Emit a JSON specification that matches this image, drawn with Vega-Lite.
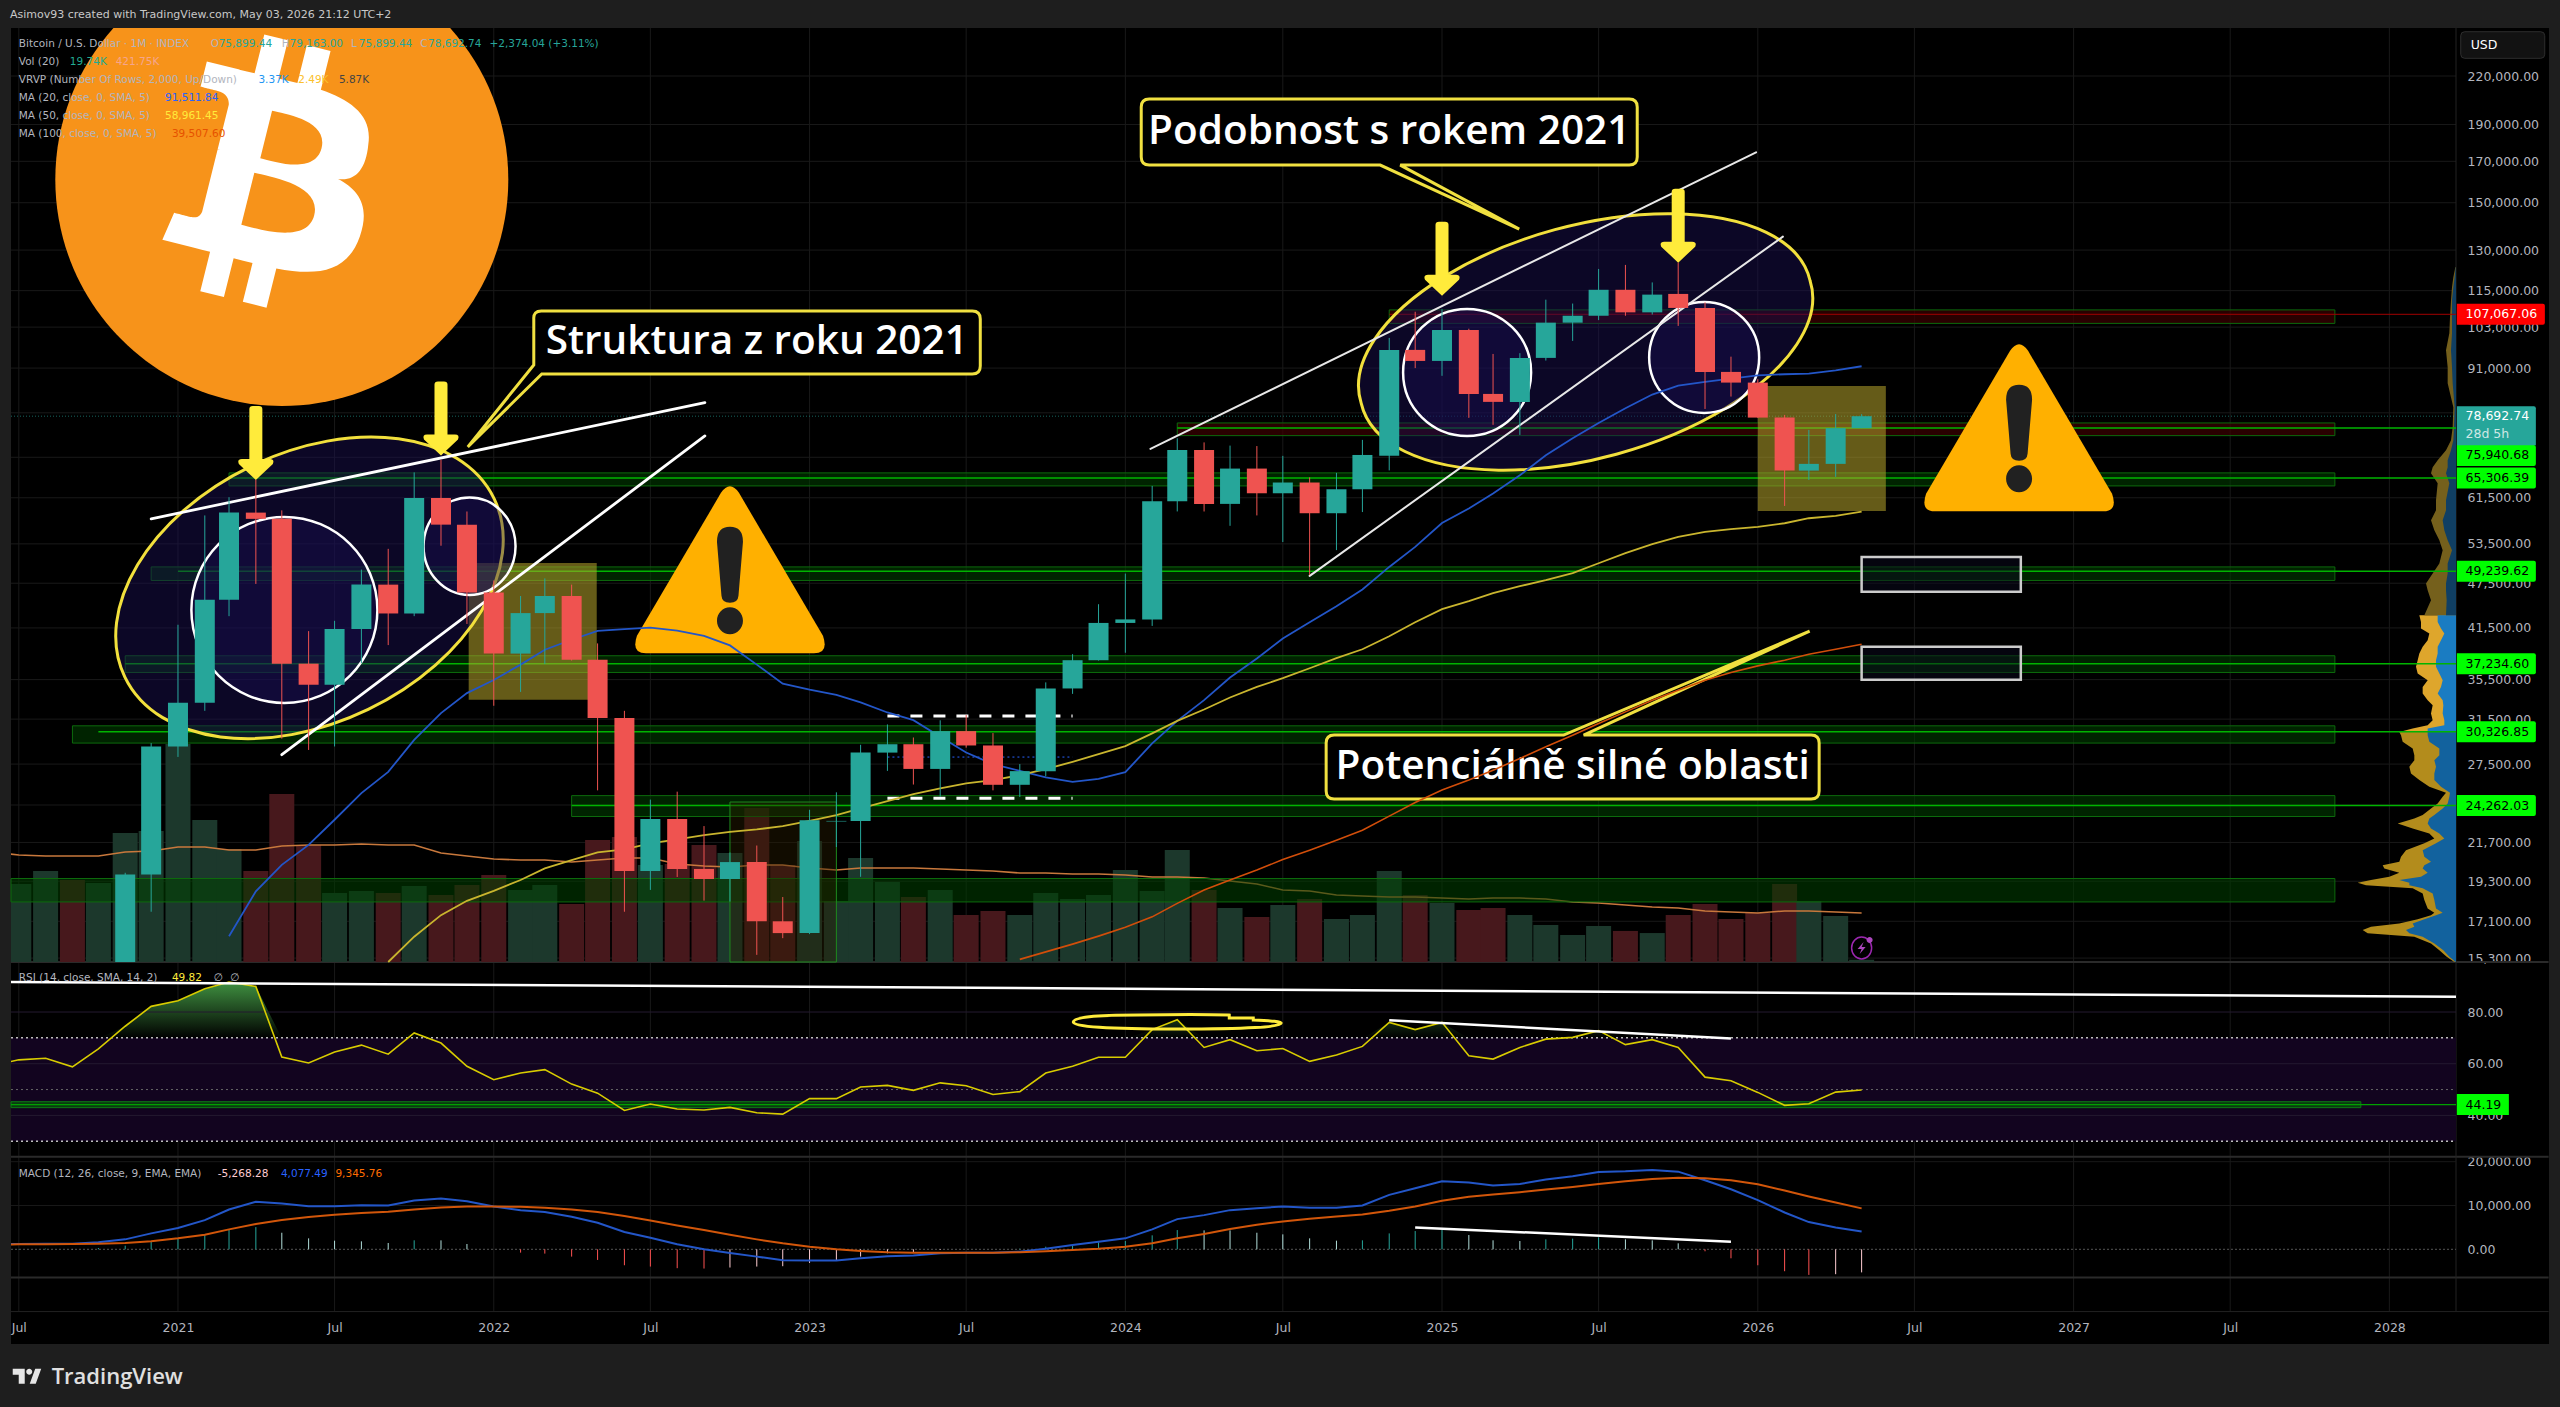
{"$schema":"https://vega.github.io/schema/vega-lite/v6.json","autosize":{"type":"none"},"padding":{"left":11,"top":28,"right":11,"bottom":63},"width":2538,"height":1316,"background":"#1e1e1e","view":{"fill":"#000000","stroke":null},
"title":{"text":"Asimov93 created with TradingView.com, May 03, 2026 21:12 UTC+2","anchor":"start","frame":"group","offset":8,"dx":-1,"fontSize":11,"fontWeight":"normal","font":"DejaVu Sans","color":"#c8c8c8"},
"datasets":{"months":[
{"date":"2020-06-01","volma":946,"rsi":59.4,"macd":1140,"signal":1060},
{"date":"2020-07-01","open":9135,"high":11450,"low":8970,"close":11335,"dir":"up","vol":671,"volma":920,"rsi":61.5,"macd":1210,"signal":1140,"hist":70,"hs":"pr"},
{"date":"2020-08-01","open":11335,"high":12470,"low":11000,"close":11650,"dir":"up","vol":783,"volma":912,"rsi":62.1,"macd":1290,"signal":1140,"hist":150,"hs":"pr"},
{"date":"2020-09-01","open":11650,"high":12050,"low":9900,"close":10780,"dir":"down","vol":705,"volma":912,"rsi":58.8,"macd":1290,"signal":1210,"hist":80,"hs":"pf"},
{"date":"2020-10-01","open":10780,"high":14100,"low":10400,"close":13800,"dir":"up","vol":679,"volma":912,"rsi":65.7,"macd":1590,"signal":1290,"hist":300,"hs":"pr"},
{"date":"2020-11-01","open":13800,"high":19800,"low":13200,"close":19700,"dir":"up","vol":1109,"volma":946,"rsi":74.5,"macd":2270,"signal":1440,"hist":830,"hs":"pr"},
{"date":"2020-12-01","open":19700,"high":29300,"low":17600,"close":29000,"dir":"up","vol":1127,"volma":955,"rsi":82.2,"macd":3640,"signal":1820,"hist":1820,"hs":"pr"},
{"date":"2021-01-01","open":29000,"high":41900,"low":28100,"close":33100,"dir":"up","vol":1875,"volma":989,"rsi":84.4,"macd":4850,"signal":2500,"hist":2350,"hs":"pr"},
{"date":"2021-02-01","open":33100,"high":58300,"low":32300,"close":45200,"dir":"up","vol":1221,"volma":989,"rsi":89.0,"macd":6670,"signal":3330,"hist":3340,"hs":"pr"},
{"date":"2021-03-01","open":45200,"high":61600,"low":43000,"close":58800,"dir":"up","vol":972,"volma":963,"ma20":16340,"rsi":91.6,"macd":9090,"signal":4550,"hist":4540,"hs":"pr"},
{"date":"2021-04-01","open":58800,"high":64900,"low":47400,"close":57700,"dir":"down","vol":783,"volma":963,"ma20":18720,"rsi":89.9,"macd":10830,"signal":5760,"hist":5070,"hs":"pr"},
{"date":"2021-05-01","open":57700,"high":59200,"low":29700,"close":37250,"dir":"down","vol":1445,"volma":998,"ma20":20280,"rsi":62.6,"macd":10450,"signal":6670,"hist":3780,"hs":"pf"},
{"date":"2021-06-01","open":37250,"high":41100,"low":28700,"close":34950,"dir":"down","vol":1006,"volma":1006,"ma20":21540,"rsi":60.3,"macd":9850,"signal":7350,"hist":2500,"hs":"pf"},
{"date":"2021-07-01","open":34950,"high":42400,"low":29000,"close":41350,"dir":"up","vol":593,"volma":1006,"ma20":23240,"rsi":64.5,"macd":9850,"signal":7880,"hist":1970,"hs":"pf"},
{"date":"2021-08-01","open":41350,"high":49500,"low":37300,"close":47300,"dir":"up","vol":611,"volma":1015,"ma20":25190,"rsi":67.2,"macd":10080,"signal":8260,"hist":1820,"hs":"pf"},
{"date":"2021-09-01","open":47300,"high":52700,"low":39400,"close":43350,"dir":"down","vol":593,"volma":1006,"ma20":26860,"ma50":15120,"rsi":63.7,"macd":10000,"signal":8560,"hist":1440,"hs":"pf"},
{"date":"2021-10-01","open":43350,"high":66400,"low":43000,"close":61450,"dir":"up","vol":654,"volma":1006,"ma20":29590,"ma50":16320,"rsi":71.9,"macd":11140,"signal":9090,"hist":2050,"hs":"pr"},
{"date":"2021-11-01","open":61450,"high":69000,"low":53200,"close":56700,"dir":"down","vol":576,"volma":937,"ma20":32080,"ma50":17420,"rsi":68.0,"macd":11590,"signal":9550,"hist":2040,"hs":"pf"},
{"date":"2021-12-01","open":56700,"high":59000,"low":42000,"close":46200,"dir":"down","vol":662,"volma":912,"ma20":34080,"ma50":18190,"rsi":59.0,"macd":10980,"signal":9770,"hist":1210,"hs":"pf"},
{"date":"2022-01-01","open":46200,"high":47900,"low":32800,"close":38400,"dir":"down","vol":748,"volma":886,"ma20":35460,"ma50":18750,"rsi":53.8,"macd":9770,"signal":9770,"hist":0,"hs":"pf"},
{"date":"2022-02-01","open":38400,"high":45700,"low":34200,"close":43400,"dir":"up","vol":619,"volma":877,"ma20":37140,"ma50":19370,"rsi":56.4,"macd":8940,"signal":9700,"hist":-760,"hs":"nf"},
{"date":"2022-03-01","open":43400,"high":48200,"low":37200,"close":45700,"dir":"up","vol":662,"volma":877,"ma20":38850,"ma50":20060,"rsi":57.7,"macd":8490,"signal":9470,"hist":-980,"hs":"nf"},
{"date":"2022-04-01","open":45700,"high":47300,"low":37600,"close":37700,"dir":"down","vol":499,"volma":860,"ma20":40040,"ma50":20570,"rsi":52.1,"macd":7420,"signal":9090,"hist":-1670,"hs":"nf"},
{"date":"2022-05-01","open":37700,"high":39600,"low":25400,"close":31600,"dir":"down","vol":1049,"volma":877,"ma20":41140,"ma50":21060,"rsi":48.6,"macd":6060,"signal":8490,"hist":-2430,"hs":"nf"},
{"date":"2022-06-01","open":31600,"high":32300,"low":17600,"close":19900,"dir":"down","vol":1075,"volma":894,"ma20":41340,"ma50":21250,"rsi":41.9,"macd":3940,"signal":7580,"hist":-3640,"hs":"nf"},
{"date":"2022-07-01","open":19900,"high":24700,"low":18800,"close":23300,"dir":"up","vol":834,"volma":894,"ma20":41540,"ma50":21640,"rsi":44.4,"macd":2650,"signal":6590,"hist":-3940,"hs":"nf"},
{"date":"2022-08-01","open":23300,"high":25300,"low":19550,"close":20030,"dir":"down","vol":843,"volma":843,"ma20":41160,"ma50":21900,"rsi":42.5,"macd":1140,"signal":5450,"hist":-4310,"hs":"nf"},
{"date":"2022-09-01","open":20030,"high":22800,"low":18200,"close":19430,"dir":"down","vol":1006,"volma":826,"ma20":40520,"ma50":22190,"rsi":42.1,"macd":0,"signal":4390,"hist":-4390,"hs":"nf"},
{"date":"2022-10-01","open":19430,"high":21050,"low":18150,"close":20450,"dir":"up","vol":937,"volma":817,"ma20":39360,"ma50":22410,"rsi":43.1,"macd":-830,"signal":3330,"hist":-4160,"hs":"nr"},
{"date":"2022-11-01","open":20450,"high":21500,"low":15450,"close":17100,"dir":"down","vol":1324,"volma":834,"ma20":37140,"ma50":22570,"rsi":41.0,"macd":-1670,"signal":2270,"hist":-3940,"hs":"nr"},
{"date":"2022-12-01","open":17100,"high":18400,"low":16250,"close":16500,"dir":"down","vol":834,"volma":834,"ma20":35070,"ma50":22800,"rsi":40.5,"macd":-2500,"signal":1360,"hist":-3860,"hs":"nr"},
{"date":"2023-01-01","open":16500,"high":23950,"low":16450,"close":23200,"dir":"up","vol":1041,"volma":808,"ma20":34430,"ma50":23170,"rsi":46.5,"macd":-2580,"signal":610,"hist":-3110,"hs":"nr"},
{"date":"2023-02-01","open":23120,"high":25250,"low":21400,"close":23160,"dir":"up","vol":525,"volma":791,"ma20":33900,"ma50":23570,"rsi":46.5,"macd":-2580,"signal":0,"hist":-2580,"hs":"nr"},
{"date":"2023-03-01","open":23160,"high":29150,"low":19560,"close":28470,"dir":"up","vol":894,"volma":808,"ma20":33130,"ma50":24050,"rsi":51.0,"macd":-2050,"signal":-380,"hist":-1670,"hs":"nr"},
{"date":"2023-04-01","open":28470,"high":31000,"low":26940,"close":29200,"dir":"up","vol":688,"volma":808,"ma20":32140,"ma50":24590,"rsi":51.6,"macd":-1590,"signal":-680,"hist":-910,"hs":"nr"},
{"date":"2023-05-01","open":29200,"high":29800,"low":25850,"close":27100,"dir":"down","vol":559,"volma":808,"ma20":31400,"ma50":25110,"rsi":49.7,"macd":-1440,"signal":-760,"hist":-680,"hs":"nr"},
{"date":"2023-06-01","open":27100,"high":31390,"low":24900,"close":30380,"dir":"up","vol":619,"volma":800,"ma20":29860,"ma50":25550,"rsi":52.6,"macd":-910,"signal":-760,"hist":-150,"hs":"nr"},
{"date":"2023-07-01","open":30380,"high":31900,"low":28900,"close":29090,"dir":"down","vol":404,"volma":791,"ma20":28480,"ma50":25940,"rsi":51.5,"macd":-760,"signal":-760,"hist":0,"hs":"nr"},
{"date":"2023-08-01","open":29090,"high":30200,"low":25400,"close":25830,"dir":"down","vol":439,"volma":783,"ma20":27490,"ma50":26200,"rsi":48.1,"macd":-760,"signal":-760,"hist":0,"hs":"nr"},
{"date":"2023-09-01","open":25830,"high":27500,"low":24900,"close":26920,"dir":"up","vol":404,"volma":765,"ma20":26940,"ma50":26590,"ma100":15240,"rsi":49.2,"macd":-530,"signal":-680,"hist":150,"hs":"pr"},
{"date":"2023-10-01","open":26920,"high":35200,"low":26500,"close":34560,"dir":"up","vol":593,"volma":765,"ma20":26410,"ma50":27080,"ma100":15590,"rsi":56.4,"macd":150,"signal":-450,"hist":600,"hs":"pr"},
{"date":"2023-11-01","open":34560,"high":38330,"low":34000,"close":37640,"dir":"up","vol":542,"volma":757,"ma20":26060,"ma50":27690,"ma100":15960,"rsi":59.0,"macd":980,"signal":-150,"hist":1130,"hs":"pr"},
{"date":"2023-12-01","open":37640,"high":44580,"low":37600,"close":42130,"dir":"up","vol":576,"volma":757,"ma20":26300,"ma50":28340,"ma100":16350,"rsi":62.5,"macd":1740,"signal":150,"hist":1590,"hs":"pr"},
{"date":"2024-01-01","open":42130,"high":48910,"low":38500,"close":42580,"dir":"up","vol":791,"volma":748,"ma20":26830,"ma50":29030,"ma100":16790,"rsi":62.5,"macd":2500,"signal":610,"hist":1890,"hs":"pr"},
{"date":"2024-02-01","open":42580,"high":63740,"low":41750,"close":60860,"dir":"up","vol":611,"volma":731,"ma20":29270,"ma50":30170,"ma100":17330,"rsi":73.2,"macd":4550,"signal":1360,"hist":3190,"hs":"pr"},
{"date":"2024-03-01","open":60860,"high":73620,"low":59010,"close":71070,"dir":"up","vol":963,"volma":731,"ma20":31340,"ma50":31340,"ma100":18050,"rsi":77.0,"macd":6890,"signal":2500,"hist":4390,"hs":"pr"},
{"date":"2024-04-01","open":71070,"high":72700,"low":59000,"close":60370,"dir":"down","vol":619,"volma":722,"ma20":33360,"ma50":32430,"ma100":18790,"rsi":66.3,"macd":7800,"signal":3480,"hist":4320,"hs":"pf"},
{"date":"2024-05-01","open":60370,"high":72000,"low":56500,"close":67170,"dir":"up","vol":464,"volma":697,"ma20":35720,"ma50":33630,"ma100":19370,"rsi":69.3,"macd":8940,"signal":4620,"hist":4320,"hs":"pf"},
{"date":"2024-06-01","open":67170,"high":71900,"low":58300,"close":62340,"dir":"down","vol":387,"volma":671,"ma20":37830,"ma50":34720,"ma100":19960,"rsi":65.0,"macd":9390,"signal":5610,"hist":3780,"hs":"pf"},
{"date":"2024-07-01","open":62340,"high":69800,"low":53800,"close":64400,"dir":"up","vol":490,"volma":619,"ma20":40190,"ma50":35650,"ma100":20610,"rsi":65.9,"macd":9770,"signal":6360,"hist":3410,"hs":"pf"},
{"date":"2024-08-01","open":64400,"high":65400,"low":48700,"close":58690,"dir":"down","vol":542,"volma":611,"ma20":42220,"ma50":36740,"ma100":21200,"rsi":60.9,"macd":9470,"signal":6970,"hist":2500,"hs":"pf"},
{"date":"2024-09-01","open":58690,"high":66300,"low":52500,"close":63100,"dir":"up","vol":370,"volma":576,"ma20":44310,"ma50":37870,"ma100":21850,"rsi":63.4,"macd":9470,"signal":7500,"hist":1970,"hs":"pf"},
{"date":"2024-10-01","open":63100,"high":73250,"low":58900,"close":69990,"dir":"up","vol":404,"volma":568,"ma20":46610,"ma50":38910,"ma100":22520,"rsi":66.7,"macd":10000,"signal":7950,"hist":2050,"hs":"pr"},
{"date":"2024-11-01","open":69850,"high":99700,"low":66800,"close":96150,"dir":"up","vol":783,"volma":559,"ma20":49900,"ma50":40470,"ma100":23500,"rsi":76.0,"macd":12420,"signal":8790,"hist":3630,"hs":"pr"},
{"date":"2024-12-01","open":96150,"high":107900,"low":91000,"close":92990,"dir":"down","vol":576,"volma":559,"ma20":53010,"ma50":42220,"ma100":24490,"rsi":73.2,"macd":13940,"signal":9770,"hist":4170,"hs":"pr"},
{"date":"2025-01-01","open":92990,"high":108700,"low":88900,"close":102100,"dir":"up","vol":507,"volma":550,"ma20":56990,"ma50":43920,"ma100":25420,"rsi":76.0,"macd":15530,"signal":11060,"hist":4470,"hs":"pr"},
{"date":"2025-02-01","open":102100,"high":102500,"low":78300,"close":84170,"dir":"down","vol":447,"volma":542,"ma20":59530,"ma50":44990,"ma100":26200,"rsi":63.1,"macd":15230,"signal":11970,"hist":3260,"hs":"pf"},
{"date":"2025-03-01","open":84170,"high":94980,"low":76660,"close":82170,"dir":"down","vol":464,"volma":550,"ma20":62290,"ma50":46090,"ma100":27000,"rsi":61.8,"macd":14550,"signal":12500,"hist":2050,"hs":"pf"},
{"date":"2025-04-01","open":82170,"high":95200,"low":74360,"close":93850,"dir":"up","vol":404,"volma":550,"ma20":65830,"ma50":47080,"ma100":27970,"rsi":66.3,"macd":14920,"signal":13030,"hist":1890,"hs":"pf"},
{"date":"2025-05-01","open":93850,"high":111900,"low":93100,"close":104400,"dir":"up","vol":318,"volma":542,"ma20":69930,"ma50":47940,"ma100":28970,"rsi":69.5,"macd":15910,"signal":13640,"hist":2270,"hs":"pr"},
{"date":"2025-06-01","open":104400,"high":110600,"low":98800,"close":106600,"dir":"up","vol":232,"volma":516,"ma20":73620,"ma50":48960,"ma100":30010,"rsi":70.2,"macd":16670,"signal":14240,"hist":2430,"hs":"pr"},
{"date":"2025-07-01","open":106600,"high":122800,"low":105200,"close":115300,"dir":"up","vol":310,"volma":507,"ma20":77100,"ma50":50460,"ma100":31090,"rsi":72.8,"macd":17650,"signal":14920,"hist":2730,"hs":"pr"},
{"date":"2025-08-01","open":115300,"high":124300,"low":106600,"close":107700,"dir":"down","vol":267,"volma":490,"ma20":80600,"ma50":52010,"ma100":32200,"rsi":67.4,"macd":17800,"signal":15530,"hist":2270,"hs":"pf"},
{"date":"2025-09-01","open":107700,"high":117900,"low":107000,"close":113630,"dir":"up","vol":249,"volma":473,"ma20":84010,"ma50":53450,"ma100":33360,"rsi":69.3,"macd":18100,"signal":16060,"hist":2040,"hs":"pf"},
{"date":"2025-10-01","open":113870,"high":125170,"low":103380,"close":109150,"dir":"down","vol":404,"volma":464,"ma20":86320,"ma50":54630,"ma100":34380,"rsi":66.3,"macd":17730,"signal":16360,"hist":1370,"hs":"pf"},
{"date":"2025-11-01","open":109150,"high":111000,"low":80430,"close":89960,"dir":"down","vol":499,"volma":439,"ma20":87270,"ma50":55470,"ma100":35440,"rsi":54.8,"macd":15760,"signal":16210,"hist":-450,"hs":"nf"},
{"date":"2025-12-01","open":89960,"high":94200,"low":83500,"close":87100,"dir":"down","vol":370,"volma":430,"ma20":88170,"ma50":55920,"ma100":36270,"rsi":53.4,"macd":13710,"signal":15760,"hist":-2050,"hs":"nf"},
{"date":"2026-01-01","open":87100,"high":88000,"low":78300,"close":78360,"dir":"down","vol":421,"volma":421,"ma20":89050,"ma50":56310,"ma100":37000,"rsi":48.9,"macd":11210,"signal":14850,"hist":-3640,"hs":"nf"},
{"date":"2026-02-01","open":78360,"high":79000,"low":60000,"close":66760,"dir":"down","vol":671,"volma":439,"ma20":89330,"ma50":56940,"ma100":37640,"rsi":43.9,"macd":8410,"signal":13410,"hist":-5000,"hs":"nf"},
{"date":"2026-03-01","open":66760,"high":75500,"low":64900,"close":68130,"dir":"up","vol":525,"volma":439,"ma20":89510,"ma50":57810,"ma100":38330,"rsi":44.5,"macd":6210,"signal":12050,"hist":-5840,"hs":"nf"},
{"date":"2026-04-01","open":68130,"high":79200,"low":65500,"close":75899,"dir":"up","vol":396,"volma":430,"ma20":90400,"ma50":58220,"ma100":38910,"rsi":49.0,"macd":5000,"signal":10680,"hist":-5680,"hs":"nr"},
{"date":"2026-05-01","open":75899.44,"high":79163,"low":75899.44,"close":78692.74,"dir":"up","vol":19.74,"volma":421.75,"ma20":91511.84,"ma50":58961.45,"ma100":39507.6,"rsi":49.82,"macd":4077.49,"signal":9345.76,"hist":-5268.28,"hs":"nr"}
],
"vrvp":[
{"price":15130,"up":2,"total":6,"band":"low"},{"price":15360,"up":20,"total":28,"band":"low"},{"price":15670,"up":38,"total":50,"band":"low"},{"price":15990,"up":65,"total":75,"band":"low"},{"price":16320,"up":100,"total":125,"band":"low"},{"price":16490,"up":140,"total":265,"band":"low"},{"price":16650,"up":150,"total":280,"band":"low"},{"price":16820,"up":125,"total":255,"band":"low"},{"price":16990,"up":130,"total":170,"band":"low"},{"price":17200,"up":95,"total":115,"band":"low"},{"price":17420,"up":60,"total":75,"band":"low"},{"price":17540,"up":40,"total":65,"band":"low"},{"price":17780,"up":60,"total":85,"band":"low"},{"price":18230,"up":65,"total":95,"band":"low"},{"price":18600,"up":70,"total":100,"band":"low"},{"price":18890,"up":100,"total":130,"band":"low"},{"price":19070,"up":140,"total":270,"band":"low"},{"price":19210,"up":140,"total":295,"band":"low"},{"price":19370,"up":170,"total":255,"band":"low"},{"price":19560,"up":105,"total":200,"band":"low"},{"price":19800,"up":85,"total":170,"band":"low"},{"price":20060,"up":100,"total":215,"band":"low"},{"price":20260,"up":95,"total":220,"band":"low"},{"price":20470,"up":75,"total":170,"band":"low"},{"price":20780,"up":95,"total":165,"band":"low"},{"price":21200,"up":100,"total":150,"band":"low"},{"price":21640,"up":60,"total":95,"band":"low"},{"price":21960,"up":35,"total":65,"band":"low"},{"price":22300,"up":50,"total":80,"band":"low"},{"price":22640,"up":75,"total":130,"band":"low"},{"price":22980,"up":85,"total":175,"band":"low"},{"price":23330,"up":80,"total":125,"band":"low"},{"price":23570,"up":65,"total":100,"band":"low"},{"price":24050,"up":40,"total":75,"band":"low"},{"price":24420,"up":25,"total":55,"band":"low"},{"price":24910,"up":20,"total":40,"band":"low"},{"price":25210,"up":18,"total":30,"band":"low"},{"price":25670,"up":45,"total":80,"band":"low"},{"price":26200,"up":65,"total":110,"band":"low"},{"price":26730,"up":65,"total":135,"band":"low"},{"price":27270,"up":60,"total":140,"band":"low"},{"price":27830,"up":65,"total":125,"band":"low"},{"price":28250,"up":50,"total":125,"band":"low"},{"price":28830,"up":50,"total":130,"band":"low"},{"price":29410,"up":80,"total":160,"band":"low"},{"price":30010,"up":85,"total":165,"band":"low"},{"price":30310,"up":85,"total":170,"band":"low"},
{"price":30310,"up":85,"total":170,"band":"mid"},{"price":30630,"up":85,"total":130,"band":"mid"},{"price":30930,"up":35,"total":85,"band":"mid"},{"price":31400,"up":35,"total":70,"band":"mid"},{"price":32050,"up":40,"total":75,"band":"mid"},{"price":32860,"up":38,"total":70,"band":"mid"},{"price":33360,"up":40,"total":85,"band":"mid"},{"price":34040,"up":55,"total":100,"band":"mid"},{"price":34720,"up":45,"total":100,"band":"mid"},{"price":35440,"up":40,"total":85,"band":"mid"},{"price":36160,"up":50,"total":115,"band":"mid"},{"price":36890,"up":60,"total":120,"band":"mid"},{"price":37640,"up":60,"total":115,"band":"mid"},{"price":38410,"up":55,"total":110,"band":"mid"},{"price":39190,"up":55,"total":100,"band":"mid"},{"price":39990,"up":45,"total":85,"band":"mid"},{"price":40800,"up":35,"total":80,"band":"mid"},{"price":41420,"up":45,"total":105,"band":"mid"},{"price":42260,"up":55,"total":105,"band":"mid"},{"price":43130,"up":55,"total":110,"band":"mid"},
{"price":43130,"up":30,"total":95,"band":"top"},{"price":45130,"up":28,"total":75,"band":"top"},{"price":46510,"up":30,"total":85,"band":"top"},{"price":47460,"up":30,"total":90,"band":"top"},{"price":48910,"up":25,"total":70,"band":"top"},{"price":50410,"up":25,"total":50,"band":"top"},{"price":52480,"up":12,"total":40,"band":"top"},{"price":54090,"up":25,"total":50,"band":"top"},{"price":55750,"up":35,"total":65,"band":"top"},{"price":57460,"up":40,"total":75,"band":"top"},{"price":59230,"up":30,"total":60,"band":"top"},{"price":61040,"up":30,"total":60,"band":"top"},{"price":64260,"up":20,"total":55,"band":"top"},{"price":66230,"up":30,"total":75,"band":"top"},{"price":67440,"up":25,"total":70,"band":"top"},{"price":68880,"up":25,"total":55,"band":"top"},{"price":70990,"up":15,"total":30,"band":"top"},{"price":73180,"up":8,"total":15,"band":"top"},{"price":76100,"up":6,"total":10,"band":"top"},{"price":80840,"up":4,"total":8,"band":"top"},{"price":86930,"up":10,"total":25,"band":"top"},{"price":91230,"up":12,"total":25,"band":"top"},{"price":96040,"up":15,"total":30,"band":"top"},{"price":101100,"up":12,"total":20,"band":"top"},{"price":106100,"up":12,"total":18,"band":"top"},{"price":111700,"up":12,"total":15,"band":"top"},{"price":116170,"up":8,"total":12,"band":"top"},{"price":119740,"up":4,"total":8,"band":"top"},{"price":123400,"up":1,"total":2,"band":"top"}
]},
"encoding":{"x":{"field":"date","type":"temporal","scale":{"type":"utc","domain":["2020-06-22","2028-03-18"],"range":[0,2445],"nice":false,"padding":0},"axis":null}},
"layer":[
{"data":{"values":[{"date":"2020-07-01","price":254350,"price2":5257},{"date":"2021-01-01","price":254350,"price2":5257},{"date":"2021-07-01","price":254350,"price2":5257},{"date":"2022-01-01","price":254350,"price2":5257},{"date":"2022-07-01","price":254350,"price2":5257},{"date":"2023-01-01","price":254350,"price2":5257},{"date":"2023-07-01","price":254350,"price2":5257},{"date":"2024-01-01","price":254350,"price2":5257},{"date":"2024-07-01","price":254350,"price2":5257},{"date":"2025-01-01","price":254350,"price2":5257},{"date":"2025-07-01","price":254350,"price2":5257},{"date":"2026-01-01","price":254350,"price2":5257},{"date":"2026-07-01","price":254350,"price2":5257},{"date":"2027-01-01","price":254350,"price2":5257},{"date":"2027-07-01","price":254350,"price2":5257},{"date":"2028-01-01","price":254350,"price2":5257}]},
"mark":{"type":"rule","stroke":"#191919","strokeWidth":1},
"encoding":{"x":{"field":"date","type":"temporal","scale":{"type":"utc","domain":["2020-06-22","2028-03-18"],"range":[0,2445],"nice":false,"padding":0},"axis":{"orient":"bottom","offset":-32,"title":null,"grid":false,"domain":false,"ticks":false,"tickCount":{"interval":"month","step":6},"labelExpr":"utcFormat(datum.value,'%m')=='01' ? utcFormat(datum.value,'%Y') : 'Jul'","labelPadding":9,"labelFontSize":12.5,"labelColor":"#b2b5be","labelFont":"DejaVu Sans","labelOverlap":false,"labelBound":false,"labelFlush":false}},"y":{"field":"price","type":"quantitative","scale":{"type":"log","domain":[15120,254350],"range":[934,0],"nice":false},"axis":null},"y2":{"field":"price2"}}},
{"data":{"values":[{"date":"2020-06-22","date2":"2028-03-18","price":220000},{"date":"2020-06-22","date2":"2028-03-18","price":190000},{"date":"2020-06-22","date2":"2028-03-18","price":170000},{"date":"2020-06-22","date2":"2028-03-18","price":150000},{"date":"2020-06-22","date2":"2028-03-18","price":130000},{"date":"2020-06-22","date2":"2028-03-18","price":115000},{"date":"2020-06-22","date2":"2028-03-18","price":103000},{"date":"2020-06-22","date2":"2028-03-18","price":91000},{"date":"2020-06-22","date2":"2028-03-18","price":79500},{"date":"2020-06-22","date2":"2028-03-18","price":69500},{"date":"2020-06-22","date2":"2028-03-18","price":61500},{"date":"2020-06-22","date2":"2028-03-18","price":53500},{"date":"2020-06-22","date2":"2028-03-18","price":47500},{"date":"2020-06-22","date2":"2028-03-18","price":41500},{"date":"2020-06-22","date2":"2028-03-18","price":35500},{"date":"2020-06-22","date2":"2028-03-18","price":31500},{"date":"2020-06-22","date2":"2028-03-18","price":27500},{"date":"2020-06-22","date2":"2028-03-18","price":24300},{"date":"2020-06-22","date2":"2028-03-18","price":21700},{"date":"2020-06-22","date2":"2028-03-18","price":19300},{"date":"2020-06-22","date2":"2028-03-18","price":17100},{"date":"2020-06-22","date2":"2028-03-18","price":15300}],"format":{"parse":{"date":"date","date2":"date"}}},
"mark":{"type":"rule","stroke":"#191919","strokeWidth":1},"encoding":{"x2":{"field":"date2"},"y":{"field":"price","type":"quantitative","scale":{"type":"log","domain":[15120,254350],"range":[934,0],"nice":false},"axis":{"orient":"right","offset":-93,"title":null,"grid":false,"domain":false,"ticks":false,"values":[220000,190000,170000,150000,130000,115000,103000,91000,79500,69500,61500,53500,47500,41500,35500,31500,27500,24300,21700,19300,17100,15300],"format":",.2f","labelPadding":11,"labelFontSize":12.5,"labelColor":"#b2b5be","labelFont":"DejaVu Sans","labelAlign":"left","labelOverlap":false,"labelBound":false,"labelFlush":false}}}},
{"encoding":{"y":{"field":"price","type":"quantitative","scale":{"type":"log","domain":[15120,254350],"range":[934,0],"nice":false},"axis":null}},
"layer":[
{"data":{"values":[{"date":"2020-06-22","date2":"2028-07-03","price":15120},{"date":"2020-06-22","date2":"2028-07-03","price":8395},{"date":"2020-06-22","date2":"2028-07-03","price":5825}],"format":{"parse":{"date":"date","date2":"date"}}},
"mark":{"type":"rule","stroke":"#2a2a2a","strokeWidth":2},"encoding":{"x2":{"field":"date2"}}},
{"data":{"values":[{"date":"2020-06-22","date2":"2028-07-03","price":5257}],"format":{"parse":{"date":"date","date2":"date"}}},
"mark":{"type":"rule","stroke":"#222222","strokeWidth":1},"encoding":{"x2":{"field":"date2"}}},
{"data":{"values":[{"date":"2028-03-18","price":254350,"price2":5257}]},"mark":{"type":"rule","stroke":"#222222","strokeWidth":1},"encoding":{"y2":{"field":"price2"}}},
{"data":{"values":[{"date":"2020-06-24","price":4424}]},"mark":{"type":"point","shape":"M0,0H12V15H6V6H0Z M13.5,3 a3,3 0 1 0 6,0 a3,3 0 1 0 -6,0 Z M17,15 L22.5,0 H28.5 L23,15 Z","size":4,"fill":"#e6e6e6","stroke":null,"opacity":1,"filled":true}},
{"data":{"values":[{"date":"2020-08-08","price":4318,"label":"TradingView"}]},"mark":{"type":"text","align":"left","baseline":"middle","font":"Open Sans","fontSize":22,"fontWeight":600,"fill":"#e0e0e0"},"encoding":{"text":{"field":"label"}}}
]},
{"encoding":{"y":{"field":"vol","type":"quantitative","scale":{"type":"linear","domain":[0,8032],"range":[934,0],"nice":false},"axis":null}},
"layer":[
{"data":{"name":"months"},"mark":{"type":"bar","size":25,"clip":true},"encoding":{"color":{"field":"dir","type":"nominal","scale":{"domain":["up","down"],"range":["#1c382c","#47181c"]},"legend":null}}},
{"data":{"name":"months"},"mark":{"type":"line","stroke":"#c8783c","strokeWidth":1.6,"clip":true},"encoding":{"y":{"field":"volma","type":"quantitative","scale":{"type":"linear","domain":[0,8032],"range":[934,0],"nice":false},"axis":null}}}
]},
{"resolve":{"scale":{"color":"independent"}},
"encoding":{"y":{"field":"price","type":"quantitative","scale":{"type":"log","domain":[15120,254350],"range":[934,0],"nice":false},"axis":null}},
"layer":[
{"data":{"name":"vrvp"},"mark":{"type":"area","orient":"horizontal"},"encoding":{"x":{"field":"total","type":"quantitative","stack":null,"scale":{"domain":[0,300],"range":[2445,2345],"nice":false},"axis":null},"color":{"field":"band","type":"nominal","scale":{"domain":["low","mid","top"],"range":["#b38c1c","#dea62c","#75601c"]},"legend":null}}},
{"data":{"name":"vrvp"},"mark":{"type":"area","orient":"horizontal"},"encoding":{"x":{"field":"up","type":"quantitative","stack":null,"scale":{"domain":[0,300],"range":[2445,2345],"nice":false},"axis":null},"color":{"field":"band","type":"nominal","scale":{"domain":["low","mid","top"],"range":["#12629e","#1a7cc2","#103f63"]},"legend":null}}}
]},
{"resolve":{"scale":{"color":"independent"}},
"encoding":{"y":{"field":"price","type":"quantitative","scale":{"type":"log","domain":[15120,254350],"range":[934,0],"nice":false,"clamp":true},"axis":null}},
"layer":[
{"data":{"values":[{"date":"2020-06-22","date2":"2028-03-18","price":78692.74}],"format":{"parse":{"date":"date","date2":"date"}}},"mark":{"type":"rule","stroke":"#26a69a","strokeWidth":1,"strokeDash":[1,2],"opacity":0.6},"encoding":{"x2":{"field":"date2"}}},
{"data":{"values":[{"date":"2024-11-01","date2":"2027-10-30","price":108500,"price2":104170},{"date":"2024-03-01","date2":"2027-10-30","price":77100,"price2":74200}],"format":{"parse":{"date":"date","date2":"date"}}},"mark":{"type":"rect","fill":"#3a0000","fillOpacity":0.7,"stroke":"#0c6a0c","strokeWidth":1},"encoding":{"x2":{"field":"date2"},"y2":{"field":"price2"}}},
{"data":{"values":[{"date":"2021-03-01","date2":"2027-10-30","price":66300,"price2":63740},{"date":"2020-12-01","date2":"2027-10-30","price":49900,"price2":47900},{"date":"2020-11-01","date2":"2027-10-30","price":38150,"price2":36270},{"date":"2020-09-01","date2":"2027-10-30","price":30870,"price2":29300},{"date":"2022-04-01","date2":"2027-10-30","price":25000,"price2":23470},{"date":"2020-06-22","date2":"2027-10-30","price":19460,"price2":18130}],"format":{"parse":{"date":"date","date2":"date"}}},"mark":{"type":"rect","fill":"#004000","fillOpacity":0.55,"stroke":"#0c6a0c","strokeWidth":1},"encoding":{"x2":{"field":"date2"},"y2":{"field":"price2"}}},
{"data":{"values":[{"date":"2024-03-01","date2":"2028-03-18","price":75940.68},{"date":"2021-03-01","date2":"2028-03-18","price":65306.39},{"date":"2021-01-01","date2":"2028-03-18","price":49239.62},{"date":"2020-11-01","date2":"2028-03-18","price":37234.6},{"date":"2020-10-01","date2":"2028-03-18","price":30326.85},{"date":"2022-04-01","date2":"2028-03-18","price":24262.03}],"format":{"parse":{"date":"date","date2":"date"}}},"mark":{"type":"rule","stroke":"#00b400","strokeWidth":1.5},"encoding":{"x2":{"field":"date2"}}},
{"data":{"values":[{"date":"2024-11-01","date2":"2028-03-18","price":107067.06}],"format":{"parse":{"date":"date","date2":"date"}}},"mark":{"type":"rule","stroke":"#a00000","strokeWidth":1},"encoding":{"x2":{"field":"date2"}}},
{"data":{"values":[{"date":"2022-10-01","date2":"2023-02-01","price":24520,"price2":15120}],"format":{"parse":{"date":"date","date2":"date"}}},"mark":{"type":"rect","fill":"#2a1e00","fillOpacity":0.4,"stroke":"#1e8a1e","strokeWidth":1},"encoding":{"x2":{"field":"date2"},"y2":{"field":"price2"}}},
{"data":{"values":[{"date":"2021-12-03","date2":"2022-04-30","price":50500,"price2":33400},{"date":"2026-01-01","date2":"2026-05-29","price":86240,"price2":59100}],"format":{"parse":{"date":"date","date2":"date"}}},"mark":{"type":"rect","fill":"#b8a52c","fillOpacity":0.55},"encoding":{"x2":{"field":"date2"},"y2":{"field":"price2"}}},
{"data":{"values":[{"date":"2026-05-01","date2":"2026-11-01","price":51430,"price2":46300},{"date":"2026-05-01","date2":"2026-11-01","price":39200,"price2":35470}],"format":{"parse":{"date":"date","date2":"date"}}},"mark":{"type":"rect","fill":"#0a0a1e","fillOpacity":0.5,"stroke":"#cccccc","strokeWidth":2.5},"encoding":{"x2":{"field":"date2"},"y2":{"field":"price2"}}},
{"data":{"values":[{"date":"2021-05-01","price":160900}]},"mark":{"type":"point","shape":"M-226.5,0 A226.5,226.5 0 1 1 226.5,0 A226.5,226.5 0 1 1 -226.5,0 Z","size":4,"fill":"#f7931a","stroke":null,"opacity":1,"filled":true,"clip":true}},
{"data":{"values":[{"date":"2021-04-21","price":163100}]},"mark":{"type":"point","shape":"M14.11,-4.559c0.637-4.258-2.605-6.547-7.038-8.074l1.438-5.768l-3.511-0.875l-1.4,5.616c-0.923-0.23-1.871-0.447-2.813-0.662l1.41-5.653l-3.509-0.875l-1.439,5.766c-0.764-0.174-1.514-0.346-2.242-0.527l0.004-0.018l-4.842-1.209l-0.934,3.75c0,0,2.605,0.597,2.55,0.634c1.422,0.355,1.679,1.296,1.636,2.042l-1.638,6.571c0.098,0.025,0.225,0.061,0.365,0.117c-0.117-0.029-0.242-0.061-0.371-0.092l-2.296,9.205c-0.174,0.432-0.615,1.08-1.609,0.834c0.035,0.051-2.552-0.637-2.552-0.637l-1.743,4.019l4.569,1.139c0.85,0.213,1.683,0.436,2.503,0.646l-1.453,5.834l3.507,0.875l1.439-5.772c0.958,0.26,1.888,0.5,2.798,0.726l-1.434,5.745l3.511,0.875l1.453-5.823c5.987,1.133,10.489,0.676,12.384-4.739c1.527-4.36-0.076-6.875-3.226-8.515C12.012,0.943,13.74,-0.605,14.11,-4.559z M6.087,5.971c-1.085,4.36-8.426,2.003-10.806,1.412l1.928-7.729C-0.411,0.249,7.221,1.424,6.087,5.971z M7.173,-3.959c-0.99,3.966-7.1,1.951-9.082,1.457l1.748-7.01C1.821,-9.018,8.205,-8.096,7.173,-3.959z","size":182,"fill":"#ffffff","stroke":null,"opacity":1,"filled":true,"clip":true}},
{"data":{"values":[{"date":"2021-06-02","price":46840}]},"mark":{"type":"point","shape":"M184.6,-89.2 A205,135,-25.8,1,1,-184.6,89.2 A205,135,-25.8,1,1,184.6,-89.2 Z","size":4,"fill":"#1a0f55","fillOpacity":0.45,"stroke":"#f2e03c","strokeWidth":3,"opacity":1}},
{"data":{"values":[{"date":"2025-06-16","price":98490}]},"mark":{"type":"point","shape":"M224.4,-61.4 A232.7,114,-15.3,1,1,-224.4,61.4 A232.7,114,-15.3,1,1,224.4,-61.4 Z","size":4,"fill":"#1a0f55","fillOpacity":0.45,"stroke":"#f2e03c","strokeWidth":3,"opacity":1}},
{"data":{"values":[{"date":"2021-05-04","price":43820}]},"mark":{"type":"point","shape":"M-93,0 A93,93 0 1 1 93,0 A93,93 0 1 1 -93,0 Z","size":4,"fill":"#1a0f55","fillOpacity":0.4,"stroke":"#ffffff","strokeWidth":2.5,"opacity":1}},
{"data":{"values":[{"date":"2021-12-04","price":53110}]},"mark":{"type":"point","shape":"M-46,0 A46,48.7 0 1 1 46,0 A46,48.7 0 1 1 -46,0 Z","size":4,"fill":"#1a0f55","fillOpacity":0.4,"stroke":"#ffffff","strokeWidth":2.5,"opacity":1}},
{"data":{"values":[{"date":"2025-01-30","price":89830}]},"mark":{"type":"point","shape":"M-64,0 A64,63.5 0 1 1 64,0 A64,63.5 0 1 1 -64,0 Z","size":4,"fill":"#1a0f55","fillOpacity":0.4,"stroke":"#ffffff","strokeWidth":2.5,"opacity":1}},
{"data":{"values":[{"date":"2025-10-31","price":93990}]},"mark":{"type":"point","shape":"M-55,0 A55,55.5 0 1 1 55,0 A55,55.5 0 1 1 -55,0 Z","size":4,"fill":"#1a0f55","fillOpacity":0.4,"stroke":"#ffffff","strokeWidth":2.5,"opacity":1}},
{"data":{"values":[{"date":"2022-10-01","price":49460},{"date":"2026-10-30","price":75970}]},"mark":{"type":"point","shape":"M-9,-77 Q0,-90 9,-77 L93,66 Q99,83.5 84,83.5 L-84,83.5 Q-99,83.5 -93,66 Z","size":4,"fill":"#ffb000","stroke":null,"opacity":1,"filled":true}},
{"data":{"values":[{"date":"2022-10-01","price":49460},{"date":"2026-10-30","price":75970}]},"mark":{"type":"point","shape":"M-13,-28 Q-13,-43 0,-43 Q13,-43 13,-28 L8.5,26 Q8,33 0,33 Q-8,33 -8.5,26 Z M-13,51 A13,13.5 0 1 0 13,51 A13,13.5 0 1 0 -13,51 Z","size":4,"fill":"#212121","stroke":null,"opacity":1,"filled":true}},
{"data":{"values":[{"date":"2020-12-01","date2":"2022-09-02","price":57700,"price2":81990},{"date":"2021-05-01","date2":"2022-09-02","price":28290,"price2":74140}],"format":{"parse":{"date":"date","date2":"date"}}},"mark":{"type":"rule","stroke":"#ffffff","strokeWidth":2.8,"strokeCap":"round"},"encoding":{"x2":{"field":"date2"},"y2":{"field":"price2"}}},
{"data":{"values":[{"date":"2024-01-30","date2":"2025-12-30","price":71280,"price2":174700},{"date":"2024-08-01","date2":"2026-01-30","price":48570,"price2":135400}],"format":{"parse":{"date":"date","date2":"date"}}},"mark":{"type":"rule","stroke":"#e8e8e8","strokeWidth":2,"strokeCap":"round"},"encoding":{"x2":{"field":"date2"},"y2":{"field":"price2"}}},
{"data":{"values":[{"date":"2023-04-01","date2":"2023-11-01","price":31800},{"date":"2023-04-01","date2":"2023-11-01","price":24810}],"format":{"parse":{"date":"date","date2":"date"}}},"mark":{"type":"rule","stroke":"#ffffff","strokeWidth":3,"strokeDash":[12,11]},"encoding":{"x2":{"field":"date2"}}},
{"data":{"values":[{"date":"2023-04-01","date2":"2023-11-01","price":28090}],"format":{"parse":{"date":"date","date2":"date"}}},"mark":{"type":"rule","stroke":"#2962ff","strokeWidth":1,"strokeDash":[2,3]},"encoding":{"x2":{"field":"date2"}}},
{"data":{"values":[{"date":"2022-11-01","price":98340}]},"mark":{"type":"point","shape":"M-215.5,-31.5 H215.5 Q223.5,-31.5 223.5,-23.5 V23.5 Q223.5,31.5 215.5,31.5 H-215 L-289,104.5 L-223,22.5 V-23.5 Q-223.5,-31.5 -215.5,-31.5 Z","size":4,"fill":"#000000","stroke":"#f0e040","strokeWidth":3,"opacity":1}},
{"data":{"values":[{"date":"2024-11-01","price":185700}]},"mark":{"type":"point","shape":"M-240,-33 H240 Q248,-33 248,-25 V25 Q248,33 240,33 H11 L130,97 L-9,33 H-240 Q-248,33 -248,25 V-25 Q-248,-33 -240,-33 Z","size":4,"fill":"#000000","stroke":"#f0e040","strokeWidth":3,"opacity":1}},
{"data":{"values":[{"date":"2025-06-01","price":27250}]},"mark":{"type":"point","shape":"M-238.5,-32 H-9 L237,-136 L11,-32 H238.5 Q246.5,-32 246.5,-24 V24 Q246.5,32 238.5,32 H-238.5 Q-246.5,32 -246.5,24 V-24 Q-246.5,-32 -238.5,-32 Z","size":4,"fill":"#000000","stroke":"#f0e040","strokeWidth":3,"opacity":1}},
{"data":{"values":[{"date":"2022-11-01","price":98340,"label":"Struktura z roku 2021"},{"date":"2024-11-01","price":185700,"label":"Podobnost s rokem 2021"},{"date":"2025-06-01","price":27250,"label":"Potenciálně silné oblasti"}]},"mark":{"type":"text","align":"center","baseline":"middle","font":"Open Sans","fontSize":40.5,"fontWeight":600,"fill":"#ffffff"},"encoding":{"text":{"field":"label"}}},
{"data":{"name":"months"},"mark":{"type":"line","stroke":"#2356c8","strokeWidth":1.8},"encoding":{"y":{"field":"ma20","type":"quantitative","scale":{"type":"log","domain":[15120,254350],"range":[934,0],"nice":false,"clamp":true},"axis":null}}},
{"data":{"name":"months"},"mark":{"type":"line","stroke":"#c9b52e","strokeWidth":1.8},"encoding":{"y":{"field":"ma50","type":"quantitative","scale":{"type":"log","domain":[15120,254350],"range":[934,0],"nice":false,"clamp":true},"axis":null}}},
{"data":{"name":"months"},"mark":{"type":"line","stroke":"#d24e0a","strokeWidth":1.6},"encoding":{"y":{"field":"ma100","type":"quantitative","scale":{"type":"log","domain":[15120,254350],"range":[934,0],"nice":false,"clamp":true},"axis":null}}},
{"data":{"values":[{"date":"2028-03-19","price":65306.39},{"date":"2028-03-19","price":49239.62},{"date":"2028-03-19","price":37234.6},{"date":"2028-03-19","price":30326.85},{"date":"2028-03-19","price":24262.03},{"date":"2028-03-19","price":69900}]},"mark":{"type":"point","shape":"M0,-10.5 H77 Q79,-10.5 79,-8.5 V8.5 Q79,10.5 77,10.5 H0 Z","size":4,"fill":"#00ff00","stroke":null,"opacity":1,"filled":true}},
{"data":{"values":[{"date":"2028-03-19","price":107067.06}]},"mark":{"type":"point","shape":"M0,-10.5 H86 Q88,-10.5 88,-8.5 V8.5 Q88,10.5 86,10.5 H0 Z","size":4,"fill":"#ff0000","stroke":null,"opacity":1,"filled":true}},
{"data":{"values":[{"date":"2028-03-19","price":78692.74}]},"mark":{"type":"point","shape":"M0,-10 H77 Q79,-10 79,-8 V29 H0 Z","size":4,"fill":"#26a69a","stroke":null,"opacity":1,"filled":true}},
{"data":{"values":[{"date":"2028-05-11","price":241600}]},"mark":{"type":"point","shape":"M-38,-13.3 H38 Q42,-13.3 42,-9.3 V9.3 Q42,13.3 38,13.3 H-38 Q-42,13.3 -42,9.3 V-9.3 Q-42,-13.3 -38,-13.3 Z","size":4,"fill":"#121212","stroke":"#2e2e2e","strokeWidth":1,"opacity":1}},
{"data":{"values":[{"date":"2028-03-29","price":65306.39,"label":"65,306.39","role":"dark"},{"date":"2028-03-29","price":49239.62,"label":"49,239.62","role":"dark"},{"date":"2028-03-29","price":37234.6,"label":"37,234.60","role":"dark"},{"date":"2028-03-29","price":30326.85,"label":"30,326.85","role":"dark"},{"date":"2028-03-29","price":24262.03,"label":"24,262.03","role":"dark"},{"date":"2028-03-29","price":69900,"label":"75,940.68","role":"dark"},{"date":"2028-03-29","price":107067.06,"label":"107,067.06","role":"light"},{"date":"2028-03-29","price":78692.74,"label":"78,692.74","role":"light"},{"date":"2028-03-29","price":74500,"label":"28d 5h","role":"soft"},{"date":"2028-04-04","price":241600,"label":"USD","role":"light"}]},"mark":{"type":"text","align":"left","baseline":"middle","font":"DejaVu Sans","fontSize":12.5},"encoding":{"text":{"field":"label"},"color":{"field":"role","type":"nominal","scale":{"domain":["dark","light","soft"],"range":["#000000","#ffffff","#cfe8e5"]},"legend":null}}},
{"data":{"name":"months"},"mark":{"type":"rule","strokeWidth":1},"encoding":{"y":{"field":"low","type":"quantitative","scale":{"type":"log","domain":[15120,254350],"range":[934,0],"nice":false,"clamp":true},"axis":null},"y2":{"field":"high"},"color":{"field":"dir","type":"nominal","scale":{"domain":["up","down"],"range":["#26a69a","#ef5350"]},"legend":null}}},
{"data":{"name":"months"},"mark":{"type":"bar","size":20},"encoding":{"y":{"field":"open","type":"quantitative","scale":{"type":"log","domain":[15120,254350],"range":[934,0],"nice":false,"clamp":true},"axis":null},"y2":{"field":"close"},"color":{"field":"dir","type":"nominal","scale":{"domain":["up","down"],"range":["#26a69a","#ef5350"]},"legend":null}}},
{"data":{"values":[{"date":"2021-04-01","price":64900},{"date":"2021-11-01","price":69860},{"date":"2025-01-01","price":113200},{"date":"2025-10-01","price":125160}]},"mark":{"type":"point","shape":"M0,0 L-17,-16 Q-19,-21 -14,-21 L-6.5,-21 L-6.5,-71 Q-6.5,-74 -3,-74 L3,-74 Q6.5,-74 6.5,-71 L6.5,-21 L14,-21 Q19,-21 17,-16 Z","size":4,"fill":"#ffeb3b","stroke":null,"opacity":1,"filled":true}},
{"data":{"values":[{"date":"2026-05-01","price":15770}]},"mark":{"type":"point","shape":"M-10,0 A10,11 0 1 1 10,0 A10,11 0 1 1 -10,0 Z","size":4,"fill":"#000000","stroke":"#9c27b0","strokeWidth":1.5,"opacity":1}},
{"data":{"values":[{"date":"2026-05-01","price":15770}]},"mark":{"type":"point","shape":"M2,-6 L-4,1 H0 L-2,6 L4,-1 H0 Z M5,-8 a3,3 0 1 0 6,0 a3,3 0 1 0 -6,0 Z","size":4,"fill":"#ab47bc","stroke":null,"opacity":1,"filled":true}},
{"data":{"values":[
{"date":"2020-07-01","price":242300,"label":"Bitcoin / U.S. Dollar · 1M · INDEX","role":"label"},{"date":"2021-02-08","price":242300,"label":"O","role":"label"},{"date":"2021-02-17","price":242300,"label":"75,899.44","role":"teal"},{"date":"2021-05-01","price":242300,"label":"H","role":"label"},{"date":"2021-05-10","price":242300,"label":"79,163.00","role":"teal"},{"date":"2021-07-20","price":242300,"label":"L","role":"label"},{"date":"2021-07-29","price":242300,"label":"75,899.44","role":"teal"},{"date":"2021-10-08","price":242300,"label":"C","role":"label"},{"date":"2021-10-17","price":242300,"label":"78,692.74","role":"teal"},{"date":"2021-12-27","price":242300,"label":"+2,374.04 (+3.11%)","role":"teal"},
{"date":"2020-07-01","price":229500,"label":"Vol (20)","role":"label"},{"date":"2020-08-29","price":229500,"label":"19.74K","role":"volg"},{"date":"2020-10-21","price":229500,"label":"421.75K","role":"pink"},
{"date":"2020-07-01","price":217400,"label":"VRVP (Number Of Rows, 2,000, Up/Down)","role":"label"},{"date":"2021-04-04","price":217400,"label":"3.37K","role":"blue"},{"date":"2021-05-20","price":217400,"label":"2.49K","role":"gold"},{"date":"2021-07-06","price":217400,"label":"5.87K","role":"dark"},
{"date":"2020-07-01","price":205800,"label":"MA (20, close, 0, SMA, 5)","role":"label"},{"date":"2020-12-17","price":205800,"label":"91,511.84","role":"ma20"},
{"date":"2020-07-01","price":194900,"label":"MA (50, close, 0, SMA, 5)","role":"label"},{"date":"2020-12-17","price":194900,"label":"58,961.45","role":"ma50"},
{"date":"2020-07-01","price":184600,"label":"MA (100, close, 0, SMA, 5)","role":"label"},{"date":"2020-12-25","price":184600,"label":"39,507.60","role":"ma100"}
]},"mark":{"type":"text","align":"left","baseline":"middle","font":"DejaVu Sans","fontSize":10.5},"encoding":{"text":{"field":"label"},"color":{"field":"role","type":"nominal","scale":{"domain":["label","teal","volg","pink","blue","gold","dark","ma20","ma50","ma100"],"range":["#b2b5be","#26a69a","#22ab94","#f5a58e","#2196f3","#fbc02d","#444444","#2962ff","#ffeb3b","#e65100"]},"legend":null}}}
]},
{"encoding":{"y":{"field":"rsi","type":"quantitative","scale":{"type":"linear","domain":[70,98.2],"range":[1010.3,937],"nice":false,"clamp":true},"axis":null}},
"layer":[
{"data":{"name":"months"},"mark":{"type":"area","clip":true,"color":{"gradient":"linear","x1":0,"y1":0,"x2":0,"y2":1,"stops":[{"offset":0,"color":"#3f9040"},{"offset":1,"color":"#000000"}]}},"encoding":{"y2":{"datum":70}}}
]},
{"data":{"values":[{"date":"2020-06-22","date2":"2028-03-18","v":70,"v2":30}],"format":{"parse":{"date":"date","date2":"date"}}},"mark":{"type":"rect","fill":"#12041f"},"encoding":{"x2":{"field":"date2"},"y":{"field":"v","type":"quantitative","scale":{"type":"linear","domain":[23.9,98.2],"range":[1129,937],"nice":false},"axis":null},"y2":{"field":"v2"}}},
{"data":{"values":[{"date":"2020-06-22","date2":"2028-03-18","v":80},{"date":"2020-06-22","date2":"2028-03-18","v":60},{"date":"2020-06-22","date2":"2028-03-18","v":40}],"format":{"parse":{"date":"date","date2":"date"}}},"mark":{"type":"rule","stroke":"#241a30","strokeWidth":1},"encoding":{"x2":{"field":"date2"},"y":{"field":"v","type":"quantitative","scale":{"type":"linear","domain":[23.9,98.2],"range":[1129,937],"nice":false},"axis":{"orient":"right","offset":-93,"title":null,"grid":false,"domain":false,"ticks":false,"values":[80,60,40],"format":",.2f","labelPadding":11,"labelFontSize":12.5,"labelColor":"#b2b5be","labelFont":"DejaVu Sans","labelAlign":"left","labelBound":false,"labelFlush":false,"labelOverlap":false}}}},
{"resolve":{"scale":{"color":"independent"}},
"encoding":{"y":{"field":"v","type":"quantitative","scale":{"type":"linear","domain":[23.9,98.2],"range":[1129,937],"nice":false},"axis":null}},
"layer":[
{"data":{"values":[{"date":"2020-06-22","date2":"2028-03-18","v":70},{"date":"2020-06-22","date2":"2028-03-18","v":30}],"format":{"parse":{"date":"date","date2":"date"}}},"mark":{"type":"rule","stroke":"#bdbdbd","strokeWidth":1.5,"strokeDash":[2,3]},"encoding":{"x2":{"field":"date2"}}},
{"data":{"values":[{"date":"2020-06-22","date2":"2028-03-18","v":50}],"format":{"parse":{"date":"date","date2":"date"}}},"mark":{"type":"rule","stroke":"#666666","strokeWidth":1,"strokeDash":[2,3]},"encoding":{"x2":{"field":"date2"}}},
{"data":{"values":[{"date":"2020-06-22","date2":"2027-11-29","v":45.3,"v2":43}],"format":{"parse":{"date":"date","date2":"date"}}},"mark":{"type":"rect","fill":"#0a3a10","stroke":"#0b7a14","strokeWidth":1},"encoding":{"x2":{"field":"date2"},"y2":{"field":"v2"}}},
{"data":{"values":[{"date":"2020-06-22","date2":"2028-03-18","v":44.19}],"format":{"parse":{"date":"date","date2":"date"}}},"mark":{"type":"rule","stroke":"#00a000","strokeWidth":1.2},"encoding":{"x2":{"field":"date2"}}},
{"data":{"name":"months"},"mark":{"type":"line","stroke":"#d8cc00","strokeWidth":1.6,"clip":true},"encoding":{"y":{"field":"rsi","type":"quantitative","scale":{"type":"linear","domain":[23.9,98.2],"range":[1129,937],"nice":false},"axis":null}}},
{"data":{"values":[{"date":"2020-06-22","date2":"2028-03-18","v":91.6,"v2":85.9}],"format":{"parse":{"date":"date","date2":"date"}}},"mark":{"type":"rule","stroke":"#ffffff","strokeWidth":2.5},"encoding":{"x2":{"field":"date2"},"y2":{"field":"v2"}}},
{"data":{"values":[{"date":"2024-11-01","date2":"2025-12-01","v":76.8,"v2":69.8}],"format":{"parse":{"date":"date","date2":"date"}}},"mark":{"type":"rule","stroke":"#ffffff","strokeWidth":2.5},"encoding":{"x2":{"field":"date2"},"y2":{"field":"v2"}}},
{"data":{"values":[{"date":"2024-03-01","v":76.1}]},"mark":{"type":"point","shape":"M-104,0 Q-104,-7 -40,-7 Q20,-8 52,-7 V-4 H76 V-2 Q104,-1 104,1 Q104,7 0,7 Q-104,7 -104,0 Z","size":4,"fill":"transparent","stroke":"#ffeb3b","strokeWidth":3,"opacity":1}},
{"data":{"values":[{"date":"2028-03-19","v":44.19}]},"mark":{"type":"point","shape":"M0,-10.5 H52 V10.5 H0 Z","size":4,"fill":"#00ff00","stroke":null,"opacity":1,"filled":true}},
{"data":{"values":[{"date":"2028-03-29","v":44.19,"label":"44.19"}]},"mark":{"type":"text","align":"left","baseline":"middle","font":"DejaVu Sans","fontSize":12.5,"fill":"#000000"},"encoding":{"text":{"field":"label"}}},
{"data":{"values":[{"date":"2020-07-01","v":93.15,"label":"RSI (14, close, SMA, 14, 2)","role":"label"},{"date":"2020-12-25","v":93.15,"label":"49.82","role":"val"},{"date":"2021-02-11","v":93.15,"label":"∅","role":"label"},{"date":"2021-03-02","v":93.15,"label":"∅","role":"label"}]},"mark":{"type":"text","align":"left","baseline":"middle","font":"DejaVu Sans","fontSize":10.5},"encoding":{"text":{"field":"label"},"color":{"field":"role","type":"nominal","scale":{"domain":["label","val"],"range":["#b2b5be","#ffeb3b"]},"legend":null}}}
]},
{"data":{"values":[{"date":"2020-06-22","date2":"2028-03-18","v":20000},{"date":"2020-06-22","date2":"2028-03-18","v":10000}],"format":{"parse":{"date":"date","date2":"date"}}},"mark":{"type":"rule","stroke":"#191919","strokeWidth":1},"encoding":{"x2":{"field":"date2"},"y":{"field":"v","type":"quantitative","scale":{"type":"linear","domain":[-6550,21070],"range":[1250,1129],"nice":false},"axis":{"orient":"right","offset":-93,"title":null,"grid":false,"domain":false,"ticks":false,"values":[20000,10000,0],"format":",.2f","labelPadding":11,"labelFontSize":12.5,"labelColor":"#b2b5be","labelFont":"DejaVu Sans","labelAlign":"left","labelBound":false,"labelFlush":false,"labelOverlap":false}}}},
{"resolve":{"scale":{"color":"independent"}},
"encoding":{"y":{"field":"v","type":"quantitative","scale":{"type":"linear","domain":[-6550,21070],"range":[1250,1129],"nice":false},"axis":null}},
"layer":[
{"data":{"values":[{"date":"2020-06-22","date2":"2028-03-18","v":0}],"format":{"parse":{"date":"date","date2":"date"}}},"mark":{"type":"rule","stroke":"#555555","strokeWidth":1,"strokeDash":[2,2]},"encoding":{"x2":{"field":"date2"}}},
{"data":{"name":"months"},"mark":{"type":"rule","strokeWidth":1},"encoding":{"y":{"field":"hist","type":"quantitative","scale":{"type":"linear","domain":[-6550,21070],"range":[1250,1129],"nice":false},"axis":null},"y2":{"datum":0},"color":{"field":"hs","type":"nominal","scale":{"domain":["pr","pf","nf","nr"],"range":["#26a69a","#b2dfdb","#ff5252","#ffcdd2"]},"legend":null}}},
{"data":{"name":"months"},"mark":{"type":"line","stroke":"#2356c8","strokeWidth":2,"clip":true},"encoding":{"y":{"field":"macd","type":"quantitative","scale":{"type":"linear","domain":[-6550,21070],"range":[1250,1129],"nice":false},"axis":null}}},
{"data":{"name":"months"},"mark":{"type":"line","stroke":"#d2560a","strokeWidth":2,"clip":true},"encoding":{"y":{"field":"signal","type":"quantitative","scale":{"type":"linear","domain":[-6550,21070],"range":[1250,1129],"nice":false},"axis":null}}},
{"data":{"values":[{"date":"2024-12-01","date2":"2025-12-01","v":5000,"v2":1740}],"format":{"parse":{"date":"date","date2":"date"}}},"mark":{"type":"rule","stroke":"#ffffff","strokeWidth":2.5},"encoding":{"x2":{"field":"date2"},"y2":{"field":"v2"}}},
{"data":{"values":[{"date":"2020-07-01","v":17190,"label":"MACD (12, 26, close, 9, EMA, EMA)","role":"label"},{"date":"2021-02-16","v":17190,"label":"-5,268.28","role":"hist"},{"date":"2021-04-30","v":17190,"label":"4,077.49","role":"macd"},{"date":"2021-07-02","v":17190,"label":"9,345.76","role":"signal"}]},"mark":{"type":"text","align":"left","baseline":"middle","font":"DejaVu Sans","fontSize":10.5},"encoding":{"text":{"field":"label"},"color":{"field":"role","type":"nominal","scale":{"domain":["label","hist","macd","signal"],"range":["#b2b5be","#ffcdd2","#2962ff","#ff6d00"]},"legend":null}}}
]}
],
"resolve":{"scale":{"x":"independent","y":"independent","color":"independent"},"axis":{"x":"independent","y":"independent"}}
}
